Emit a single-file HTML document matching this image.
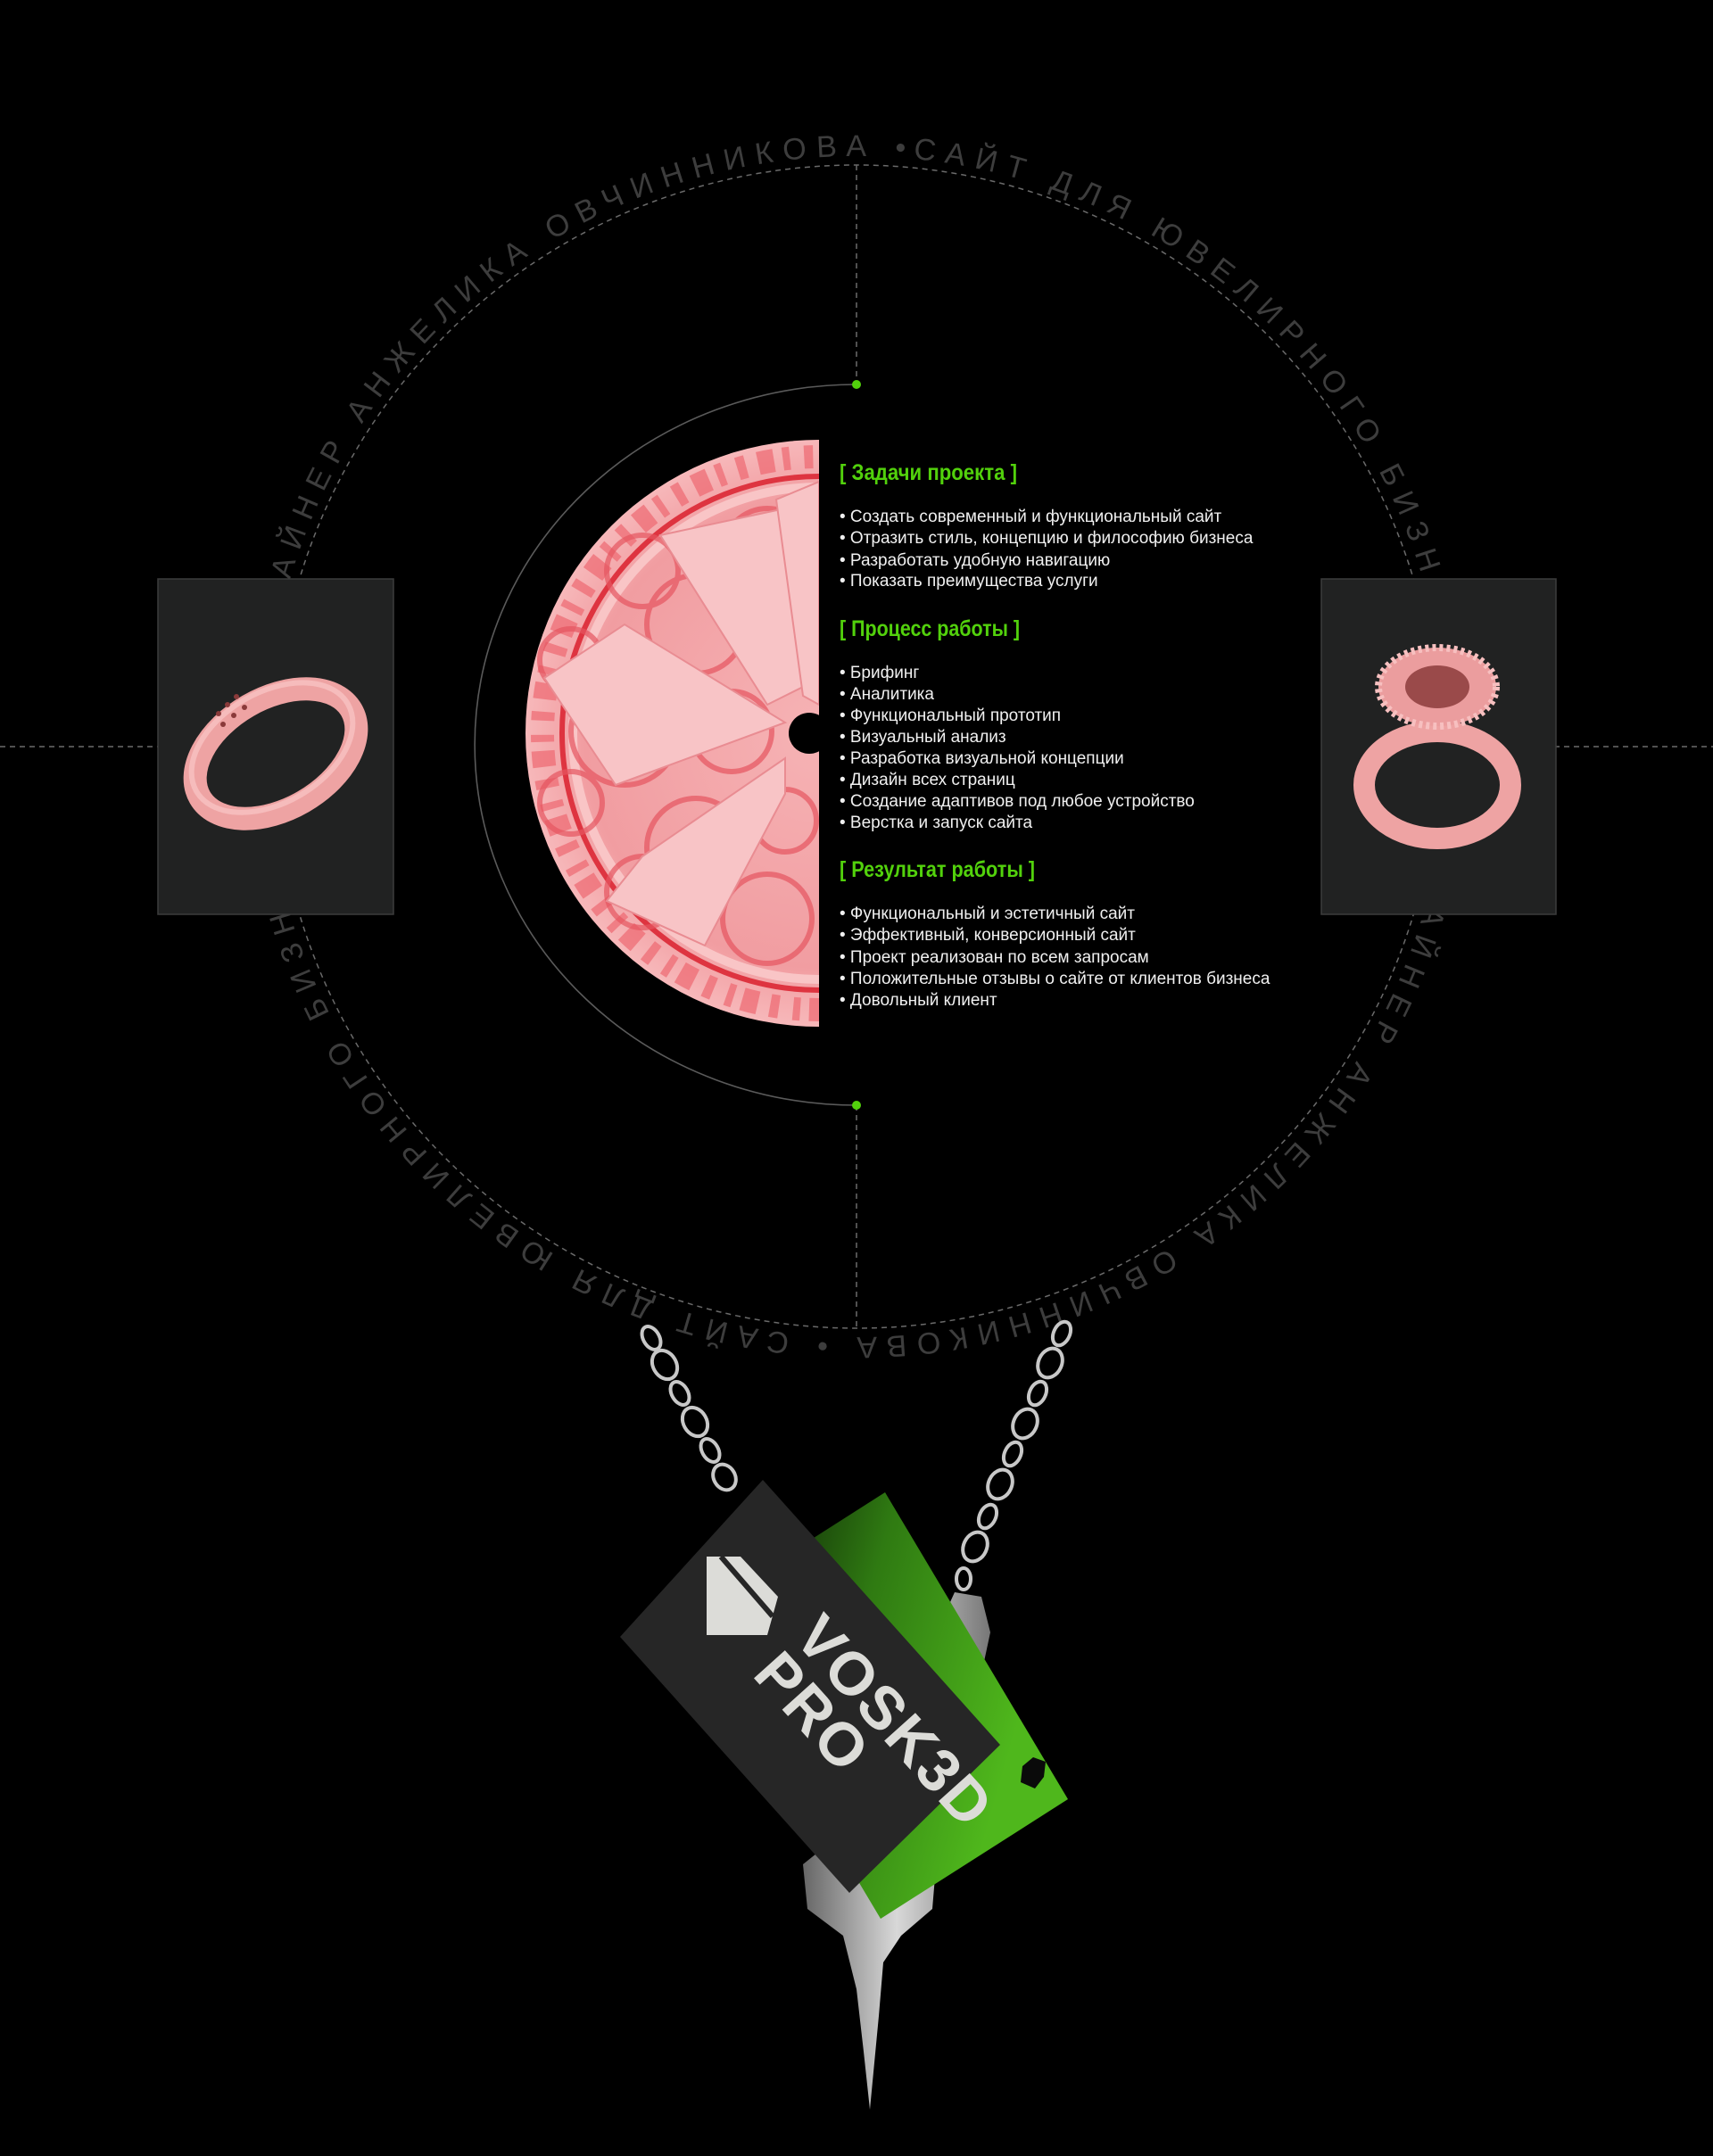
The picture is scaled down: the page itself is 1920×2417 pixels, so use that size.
<!DOCTYPE html>
<html><head><meta charset="utf-8"><style>
html,body{margin:0;padding:0;background:#000;}
body{width:1920px;height:2417px;overflow:hidden;}
svg{display:block}
.t{font-family:"Liberation Sans",sans-serif;font-size:19px;fill:#f0f0f0}
.h{font-family:"Liberation Sans Narrow","Liberation Sans",sans-serif;font-weight:bold;font-size:25px;fill:#52d10c}
</style></head><body>
<svg width="1920" height="2417" viewBox="0 0 1920 2417" xmlns="http://www.w3.org/2000/svg">
<defs>
<radialGradient id="pink" cx="918" cy="822" r="329" gradientUnits="userSpaceOnUse">
<stop offset="0" stop-color="#f6b3b5"/><stop offset="0.8" stop-color="#f19da1"/><stop offset="1" stop-color="#f7b8ba"/>
</radialGradient>
<clipPath id="half"><rect x="500" y="480" width="418" height="700"/></clipPath>
<linearGradient id="grn" x1="800" y1="1800" x2="1150" y2="1900" gradientUnits="userSpaceOnUse">
<stop offset="0" stop-color="#0a1a05"/><stop offset="0.45" stop-color="#2f7a12"/><stop offset="1" stop-color="#4fb71c"/>
</linearGradient>
<linearGradient id="silver" x1="0" y1="0" x2="1" y2="0">
<stop offset="0" stop-color="#666"/><stop offset="0.5" stop-color="#d8d8d8"/><stop offset="1" stop-color="#777"/>
</linearGradient>
<path id="ring" d="M960,175 A662,662 0 1 1 960,1499 A662,662 0 1 1 960,175"/>
</defs>

<circle cx="960" cy="837" r="652" fill="none" stroke="#6a6a6a" stroke-width="1.5" stroke-dasharray="6 5"/>
<line x1="960" y1="185" x2="960" y2="431" stroke="#6a6a6a" stroke-width="1.5" stroke-dasharray="6 5"/>
<line x1="960" y1="1239" x2="960" y2="1490" stroke="#6a6a6a" stroke-width="1.5" stroke-dasharray="6 5"/>
<line x1="0" y1="837" x2="200" y2="837" stroke="#6a6a6a" stroke-width="1.5" stroke-dasharray="6 5"/>
<line x1="1720" y1="837" x2="1920" y2="837" stroke="#6a6a6a" stroke-width="1.5" stroke-dasharray="6 5"/>

<g transform="rotate(5.5 960 837)">
<text font-family="Liberation Sans Narrow, Liberation Sans, sans-serif" font-size="34" fill="#3d3d3d"><textPath href="#ring" textLength="4150" lengthAdjust="spacing">САЙТ ДЛЯ ЮВЕЛИРНОГО БИЗНЕСА 2025 ДИЗАЙНЕР АНЖЕЛИКА ОВЧИННИКОВА • САЙТ ДЛЯ ЮВЕЛИРНОГО БИЗНЕСА 2025 ДИЗАЙНЕР АНЖЕЛИКА ОВЧИННИКОВА •</textPath></text>
</g>

<path d="M960,431 A428,404 0 0 0 960,1239" fill="none" stroke="#5a5a5a" stroke-width="1.6"/>
<circle cx="960" cy="431" r="5" fill="#52d10c"/>
<circle cx="960" cy="1239" r="5" fill="#52d10c"/>

<g clip-path="url(#half)">
<circle cx="918" cy="822" r="329" fill="url(#pink)"/>
<circle cx="918" cy="822" r="310" fill="none" stroke="#ec5c66" stroke-width="26" stroke-dasharray="10 14 18 10 8 16" opacity="0.6"/>
<circle cx="918" cy="822" r="288" fill="none" stroke="#de3440" stroke-width="6"/>
<circle cx="918" cy="822" r="276" fill="none" stroke="#f9c5c6" stroke-width="10"/>
<g fill="none" stroke="#e65560" stroke-width="6" opacity="0.7">
<circle cx="780" cy="700" r="55"/><circle cx="700" cy="820" r="60"/><circle cx="780" cy="950" r="55"/>
<circle cx="860" cy="620" r="50"/><circle cx="860" cy="1030" r="50"/><circle cx="720" cy="640" r="40"/>
<circle cx="720" cy="1000" r="40"/><circle cx="640" cy="740" r="35"/><circle cx="640" cy="900" r="35"/>
<circle cx="820" cy="820" r="45"/><circle cx="880" cy="720" r="35"/><circle cx="880" cy="920" r="35"/>
</g>
<g fill="#f8c4c6" stroke="#e98c92" stroke-width="2">
<polygon points="740,600 880,570 900,770 860,790"/>
<polygon points="610,760 700,700 880,810 690,880"/>
<polygon points="680,1010 720,960 880,850 880,890 790,1060"/>
<polygon points="870,560 918,540 918,790 900,780"/>
</g>
<circle cx="907" cy="822" r="23" fill="#000"/>
</g>

<text class="h" x="941" y="538" textLength="199" lengthAdjust="spacingAndGlyphs">[ Задачи проекта ]</text>
<text class="t" x="941" y="585">• Создать современный и функциональный сайт</text>
<text class="t" x="941" y="609">• Отразить стиль, концепцию и философию бизнеса</text>
<text class="t" x="941" y="634">• Разработать удобную навигацию</text>
<text class="t" x="941" y="657">• Показать преимущества услуги</text>
<text class="h" x="941" y="713" textLength="202" lengthAdjust="spacingAndGlyphs">[ Процесс работы ]</text>
<text class="t" x="941" y="760">• Брифинг</text>
<text class="t" x="941" y="784">• Аналитика</text>
<text class="t" x="941" y="808">• Функциональный прототип</text>
<text class="t" x="941" y="832">• Визуальный анализ</text>
<text class="t" x="941" y="856">• Разработка визуальной концепции</text>
<text class="t" x="941" y="880">• Дизайн всех страниц</text>
<text class="t" x="941" y="904">• Создание адаптивов под любое устройство</text>
<text class="t" x="941" y="928">• Верстка и запуск сайта</text>
<text class="h" x="941" y="983" textLength="219" lengthAdjust="spacingAndGlyphs">[ Результат работы ]</text>
<text class="t" x="941" y="1030">• Функциональный и эстетичный сайт</text>
<text class="t" x="941" y="1054">• Эффективный, конверсионный сайт</text>
<text class="t" x="941" y="1079">• Проект реализован по всем запросам</text>
<text class="t" x="941" y="1103">• Положительные отзывы о сайте от клиентов бизнеса</text>
<text class="t" x="941" y="1127">• Довольный клиент</text>

<rect x="177" y="649" width="264" height="376" fill="#212222" stroke="#3c3c3c" stroke-width="1.5"/>
<rect x="1481" y="649" width="263" height="376" fill="#212222" stroke="#3c3c3c" stroke-width="1.5"/>
<g transform="rotate(-30 309 845)">
<ellipse cx="309" cy="845" rx="98" ry="62" fill="none" stroke="#eea3a3" stroke-width="26"/>
<ellipse cx="309" cy="837" rx="98" ry="62" fill="none" stroke="#f6bcbc" stroke-width="6"/>
</g>
<g fill="#8a3a3a"><circle cx="245" cy="800" r="3"/><circle cx="255" cy="790" r="3"/><circle cx="265" cy="781" r="3"/><circle cx="250" cy="812" r="3"/><circle cx="262" cy="802" r="3"/><circle cx="274" cy="793" r="3"/></g>
<ellipse cx="1611" cy="880" rx="82" ry="60" fill="none" stroke="#eea3a3" stroke-width="24"/>
<ellipse cx="1611" cy="770" rx="66" ry="44" fill="#eb9d9e"/>
<ellipse cx="1611" cy="770" rx="36" ry="24" fill="#9a4a4a"/>
<ellipse cx="1611" cy="770" rx="66" ry="44" fill="none" stroke="#f7c0c0" stroke-width="8" stroke-dasharray="4 4"/>

<g fill="none" stroke="#c8c8c8" stroke-width="4">
<ellipse cx="730" cy="1500" rx="9" ry="14" transform="rotate(-30 730 1500)"/>
<ellipse cx="745" cy="1530" rx="13" ry="17" transform="rotate(-30 745 1530)"/>
<ellipse cx="762" cy="1562" rx="9" ry="14" transform="rotate(-30 762 1562)"/>
<ellipse cx="779" cy="1594" rx="13" ry="17" transform="rotate(-30 779 1594)"/>
<ellipse cx="796" cy="1626" rx="9" ry="14" transform="rotate(-30 796 1626)"/>
<ellipse cx="812" cy="1656" rx="12" ry="15" transform="rotate(-30 812 1656)"/>
<ellipse cx="1190" cy="1495" rx="9" ry="14" transform="rotate(25 1190 1495)"/>
<ellipse cx="1177" cy="1528" rx="13" ry="17" transform="rotate(25 1177 1528)"/>
<ellipse cx="1163" cy="1562" rx="9" ry="14" transform="rotate(25 1163 1562)"/>
<ellipse cx="1149" cy="1596" rx="13" ry="17" transform="rotate(25 1149 1596)"/>
<ellipse cx="1135" cy="1630" rx="9" ry="14" transform="rotate(25 1135 1630)"/>
<ellipse cx="1121" cy="1664" rx="13" ry="17" transform="rotate(25 1121 1664)"/>
<ellipse cx="1107" cy="1700" rx="9" ry="14" transform="rotate(25 1107 1700)"/>
<ellipse cx="1093" cy="1734" rx="13" ry="17" transform="rotate(25 1093 1734)"/>
<ellipse cx="1080" cy="1770" rx="8" ry="12"/>
</g>

<polygon points="1070,1785 1100,1790 1110,1830 1095,1900 1060,2000 1050,2080 1045,2140 1010,2170 990,2200 985,2260 975,2365 968,2300 960,2230 945,2170 905,2140 900,2090 950,2050" fill="url(#silver)"/>

<polygon points="992,1673 1197,2017 987,2151 782,1807" fill="url(#grn)"/>
<polygon points="1146,1980 1158,1970 1172,1975 1170,1992 1160,2005 1144,1998" fill="#0a0a0a"/>
<polygon points="855,1659 1121,1956 952,2122 695,1835" fill="#262626"/>
<polygon points="792,1745 830,1745 872,1790 860,1833 792,1833" fill="#dcdcd8"/>
<line x1="808" y1="1745" x2="866" y2="1812" stroke="#262626" stroke-width="6"/>
<text x="888" y="1837" transform="rotate(48 888 1837)" font-family="Liberation Sans, sans-serif" font-weight="bold" font-size="68" fill="#dcdcd8" letter-spacing="2">VOSK3D</text>
<text x="842" y="1878" transform="rotate(48 842 1878)" font-family="Liberation Sans, sans-serif" font-weight="bold" font-size="68" fill="#dcdcd8" letter-spacing="2">PRO</text>
</svg>
</body></html>
